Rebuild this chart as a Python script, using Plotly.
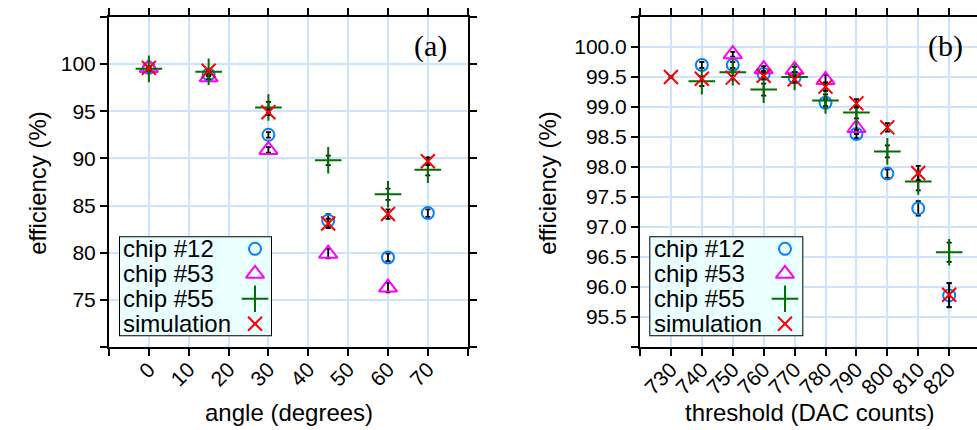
import plotly.graph_objects as go

# ---------------- data ----------------
# panel (a): efficiency vs angle
angle_12 = [0, 15, 30, 45, 60, 70]
eff_a_12 = [99.6, 98.9, 92.5, 83.4, 79.5, 84.2]
err_a_12 = [0.2, 0.2, 0.3, 0.7, 0.4, 0.4]

angle_53 = [0, 15, 30, 45, 60]
eff_a_53 = [99.6, 98.6, 90.9, 79.9, 76.3]
err_a_53 = [0.2, 0.2, 0.3, 0.5, 0.5]

angle_55 = [0, 15, 30, 45, 60, 70]
eff_a_55 = [99.5, 99.2, 95.4, 89.8, 86.2, 88.8]
err_a_55 = [0.2, 0.3, 0.6, 0.5, 0.6, 0.6]

angle_sim = [0, 15, 30, 45, 60, 70]
eff_a_sim = [99.6, 99.3, 94.9, 83.1, 84.1, 89.7]
err_a_sim = [0.1, 0.1, 0.3, 0.5, 0.5, 0.4]

# panel (b): efficiency vs threshold
thr_12 = [740, 750, 760, 770, 780, 790, 800, 810, 820]
eff_b_12 = [99.70, 99.70, 99.55, 99.49, 99.07, 98.55, 97.89, 97.31, 95.86]
err_b_12 = [0.05, 0.05, 0.05, 0.05, 0.06, 0.07, 0.07, 0.12, 0.20]

thr_53 = [750, 760, 770, 780, 790]
eff_b_53 = [99.88, 99.63, 99.62, 99.45, 98.65]
err_b_53 = [0.04, 0.05, 0.05, 0.08, 0.10]

thr_55 = [740, 750, 760, 770, 780, 790, 800, 810, 820]
eff_b_55 = [99.43, 99.58, 99.29, 99.50, 99.11, 98.91, 98.26, 97.76, 96.58]
err_b_55 = [0.08, 0.06, 0.10, 0.08, 0.10, 0.10, 0.10, 0.15, 0.16]

thr_sim = [730, 740, 750, 760, 770, 780, 790, 800, 810, 820]
eff_b_sim = [99.50, 99.47, 99.49, 99.52, 99.46, 99.34, 99.06, 98.66, 97.90, 95.87]
err_b_sim = [0.02, 0.03, 0.03, 0.05, 0.05, 0.07, 0.07, 0.07, 0.12, 0.20]

series_names = ["chip #12", "chip #53", "chip #55", "simulation"]

# x/y tick positions and labels
a_xticks = [-10, 0, 10, 20, 30, 40, 50, 60, 70, 80]
a_yticks = [70, 75, 80, 85, 90, 95, 100, 105]
b_xticks = [720, 730, 740, 750, 760, 770, 780, 790, 800, 810, 820, 830]
b_yticks = [95.0, 95.5, 96.0, 96.5, 97.0, 97.5, 98.0, 98.5, 99.0, 99.5, 100.0, 100.5]

# ---------------- styles ----------------
W, H = 977, 430
FONT = "Liberation Sans, Arial, Helvetica, sans-serif"
GRID = "rgb(204,228,255)"
styles = [
    dict(symbol="circle-open", size=12, color="rgb(0,128,255)", lw=2),
    dict(symbol="triangle-up-open", size=16, color="rgb(255,0,255)", lw=2),
    dict(symbol="cross-thin-open", size=19, color="rgb(0,110,0)", lw=2),
    dict(symbol="x-thin-open", size=14, color="rgb(255,0,0)", lw=2),
]

fig = go.Figure()

def add_series(xs, ys, es, st, xa, ya):
    fig.add_trace(go.Scatter(
        x=xs, y=ys, mode="markers", xaxis=xa, yaxis=ya, showlegend=False,
        marker=dict(symbol=st["symbol"], size=st["size"], color=st["color"],
                    line=dict(color=st["color"], width=st["lw"])),
        error_y=dict(type="data", array=es, color="black", thickness=1.8, width=2.5),
        cliponaxis=False,
    ))

panel_a = [(angle_12, eff_a_12, err_a_12), (angle_53, eff_a_53, err_a_53),
           (angle_55, eff_a_55, err_a_55), (angle_sim, eff_a_sim, err_a_sim)]
panel_b = [(thr_12, eff_b_12, err_b_12), (thr_53, eff_b_53, err_b_53),
           (thr_55, eff_b_55, err_b_55), (thr_sim, eff_b_sim, err_b_sim)]
for (xs, ys, es), st in zip(panel_a, styles):
    add_series(xs, ys, es, st, "x", "y")
for (xs, ys, es), st in zip(panel_b, styles):
    add_series(xs, ys, es, st, "x2", "y2")

# legend keys (drawn on hidden legend axes)
for i, st in enumerate(styles):
    for xa, ya, kx in (("x3", "y3", 0.889), ("x4", "y4", 0.881)):
        fig.add_trace(go.Scatter(
            x=[kx], y=[len(styles) - 0.5 - i], mode="markers", xaxis=xa, yaxis=ya,
            showlegend=False, hoverinfo="skip",
            marker=dict(symbol=st["symbol"], size=st["size"], color=st["color"],
                        line=dict(color=st["color"], width=st["lw"]))))

def fmt(v, dec):
    return f"{v:.{dec}f}"

def axis_common(tickvals, ticktext, rng, mirror="ticks"):
    return dict(
        range=rng, tickmode="array", tickvals=tickvals, ticktext=ticktext,
        showline=True, linecolor="black", linewidth=2, mirror=mirror,
        ticks="outside", ticklen=7, tickwidth=1.8, tickcolor="black",
        showgrid=True, gridcolor=GRID, gridwidth=2, zeroline=False,
        tickfont=dict(family=FONT, size=21, color="black"),
    )

# pixel geometry -> paper fractions
top_px, bot_px = 17, 347.5
def px_x(p):
    return p / W

xa = axis_common(a_xticks, [""] + [str(v) for v in a_xticks[1:-1]] + [""], [-10, 80])
xa.update(domain=[px_x(109), px_x(467.7)], tickangle=-45, anchor="y", ticklabelstandoff=-7)
ya = axis_common(a_yticks, [""] + [str(v) for v in a_yticks[1:-1]] + [""], [70, 105])
ya.update(domain=[0, 1], anchor="x")

xb = axis_common(b_xticks, [""] + [str(v) for v in b_xticks[1:-1]] + [""], [720, 829])
xb.update(domain=[px_x(640), 1.0], tickangle=-45, anchor="y2", ticklabelstandoff=-7)
yb = axis_common(b_yticks, [""] + [fmt(v, 1) for v in b_yticks[1:-1]] + [""], [95.0, 100.5], mirror=False)
yb.update(domain=[0, 1], anchor="x2")

plot_h = bot_px - top_px
def py(p):
    return (bot_px - p) / plot_h

leg_y = [py(336.7), py(236.7)]
hidden = dict(visible=False, showgrid=False, zeroline=False, fixedrange=True)

fig.update_layout(
    width=W, height=H,
    margin=dict(l=0, r=0, t=top_px, b=H - bot_px),
    paper_bgcolor="white", plot_bgcolor="white",
    showlegend=False,
    xaxis=xa, yaxis=ya, xaxis2=xb, yaxis2=yb,
    xaxis3=dict(domain=[px_x(119), px_x(272)], range=[0, 1], anchor="y3", **hidden),
    yaxis3=dict(domain=leg_y, range=[0, 4], anchor="x3", **hidden),
    xaxis4=dict(domain=[px_x(649.3), px_x(803.3)], range=[0, 1], anchor="y4", **hidden),
    yaxis4=dict(domain=leg_y, range=[0, 4], anchor="x4", **hidden),
)

# legend boxes
for xr, yr in (("x3", "y3"), ("x4", "y4")):
    fig.add_shape(type="rect", xref=xr, yref=yr, x0=0, x1=1, y0=0, y1=4,
                  layer="below", fillcolor="rgb(234,255,255)",
                  line=dict(color="black", width=2))
    for i, name in enumerate(series_names):
        fig.add_annotation(x=0.016, y=len(series_names) - 0.5 - i, xref=xr, yref=yr,
                           text=name, showarrow=False, xanchor="left", yanchor="middle",
                           font=dict(family=FONT, size=24, color="black"))

# axis titles
title_font = dict(family=FONT, size=24, color="black")
def label(text, x, y, font, angle=0):
    fig.add_annotation(text=text, x=px_x(x), y=py(y), xref="paper", yref="paper",
                       xanchor="center", yanchor="middle", textangle=angle,
                       showarrow=False, font=font)

label("efficiency (%)", 38, 183, title_font, -90)
label("efficiency (%)", 548, 183, title_font, -90)
label("angle (degrees)", 289, 413, title_font)
label("threshold (DAC counts)", 809, 413, title_font)

# panel labels
serif = dict(family="Liberation Serif, DejaVu Serif, serif", size=30, color="black")
label("(a)", 430, 46, serif)
label("(b)", 945, 46, serif)

fig.write_html("out.html")
